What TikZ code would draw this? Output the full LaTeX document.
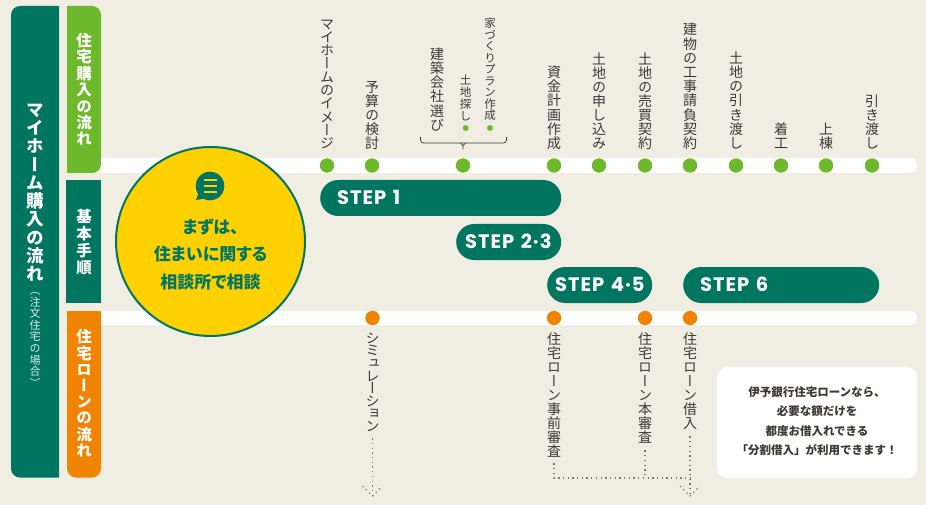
\documentclass[tikz,border=0pt]{standalone}
\usepackage{fontspec}
\newfontfamily\jpfont[RawFeature=+palt]{Noto Sans CJK JP}
\newfontfamily\jpnote{Noto Sans CJK JP}
\newfontfamily\jpvert[RawFeature=+vert]{Noto Sans CJK JP}
\newfontfamily\stepfont[LetterSpace=5]{Poppins}
\definecolor{pagebg}{HTML}{F0EEE3}
\definecolor{deepgreen}{HTML}{007560}
\definecolor{leafgreen}{HTML}{6EB92B}
\definecolor{loanorange}{HTML}{F08300}
\definecolor{talkyellow}{HTML}{FFD100}
\definecolor{labelgray}{HTML}{3C3A36}
\definecolor{dotgray}{HTML}{7D7A72}
\makeatletter
\newcommand{\vtext}[2]{\vbox{\offinterlineskip\@tfor\vch:=#2\do{\hbox to 1.2em{\vrule height .88\dimexpr#1\relax depth .12\dimexpr#1\relax width 0pt\hss\smash{\vch}\hss}}}}
\makeatother
\tikzset{
  sidelabel/.style={inner sep=0pt,text=white,font=\fontsize{15.5}{16}\jpvert\bfseries},
  toplabel/.style={inner sep=0pt,anchor=south,text=labelgray,font=\fontsize{14}{14}\jpvert},
  loanlabel/.style={inner sep=0pt,anchor=north,text=labelgray,font=\fontsize{14}{14}\jpvert},
  smalllabel/.style={inner sep=0pt,anchor=south,text=labelgray,font=\fontsize{11.5}{11}\jpvert},
  stepbar/.style={fill=deepgreen,rounded corners=18pt,minimum height=36pt,inner ysep=0pt,align=left,text=white,text height=13.5pt,text depth=0pt,font=\fontsize{19.5}{20}\stepfont\bfseries},
  talkline/.style={inner sep=0pt,text=deepgreen,font=\fontsize{17}{17}\jpfont\bfseries},
  noteline/.style={inner sep=0pt,text=labelgray,font=\fontsize{11.5}{12}\jpnote\bfseries},
  dotline/.style={dotgray,line width=1.3pt,dash pattern=on 1.3pt off 3.4pt},
}

\begin{document}
\begin{tikzpicture}[x=1pt,y=-1pt]
  \fill[pagebg] (0,0) rectangle (926,505);
  \useasboundingbox (0,0) rectangle (926,505);
  % side bars
  \fill[deepgreen] (59,6) [rounded corners=9pt] -- (11,6) -- (11,477.5) [sharp corners] -- (59,477.5) -- cycle;
  \fill[leafgreen] (67,6) [rounded corners=9pt] -- (101,6) -- (101,173) [sharp corners] -- (67,173) -- cycle;
  \fill[deepgreen] (66,180) rectangle (101,303);
  \fill[loanorange] (101,311) [rounded corners=9pt] -- (101,477.5) -- (67,477.5) [sharp corners] -- (67,311) -- cycle;
  \node[sidelabel,font=\fontsize{17.5}{18}\jpvert\bfseries] (mainTitle) at (35,191.5) {\vtext{18.3pt}{マイホーム購入の流れ}};
  \node[sidelabel,font=\fontsize{11}{11}\jpvert,text=white!85!deepgreen] (mainNote) at (35,336.5) {\vtext{11.6pt}{（注文住宅の場合）}};
  \node[sidelabel] (buyTitle) at (84,89.5) {\vtext{16.4pt}{住宅購入の流れ}};
  \node[sidelabel] (stepTitle) at (84,241.5) {\vtext{17pt}{基本手順}};
  \node[sidelabel] (loanTitle) at (84,393.5) {\vtext{16.2pt}{住宅ローンの流れ}};
  % white tracks
  \fill[white] (101,158) [rounded corners=7pt] -- (917,158) -- (917,173) [sharp corners] -- (101,173) -- cycle;
  \fill[white] (101,311) [rounded corners=7pt] -- (917,311) -- (917,325) [sharp corners] -- (101,325) -- cycle;
  % yellow circle
  \node[circle,fill=talkyellow,draw=deepgreen,line width=2pt,minimum size=189pt,inner sep=0pt] (talk) at (210.5,241.5) {};
  \fill[deepgreen] (210,186) circle (14.3);
  \fill[deepgreen] (199,192) -- (196,200) -- (208,198) -- cycle;
  \foreach \y in {180,186,192}
    \draw[talkyellow,line width=1.7pt] (204,\y)--(217,\y);
  \node[talkline] (talkA) at (210.5,227) {まずは、};
  \node[talkline] (talkB) at (210.5,254) {住まいに関する};
  \node[talkline] (talkC) at (210.5,282) {相談所で相談};
  % dots on the tracks
  \foreach \x in {327,372,463,554,599,645,690,736,781,826,872}
    \fill[leafgreen] (\x,165.5) circle (7.2);
  \foreach \x in {372.5,554,645,690}
    \fill[loanorange] (\x,318) circle (7.2);
  % upper labels
  \node[toplabel] (imageLabel) at (327,150.5) {\vtext{13.3pt}{マイホームのイメージ}};
  \node[toplabel] (budgetLabel) at (372,150.5) {\vtext{14.1pt}{予算の検討}};
  \node[toplabel] (builderLabel) at (437,132) {\vtext{14.1pt}{建築会社選び}};
  \node[smalllabel] (landLabel) at (465.5,122) {\vtext{11.8pt}{土地探し}};
  \node[smalllabel] (planLabel) at (490,121.5) {\vtext{11.5pt}{家づくりプラン作成}};
  \fill[leafgreen] (465.7,128) circle (3);
  \fill[leafgreen] (490,128) circle (3);
  \node[toplabel] (fundLabel) at (554,150.5) {\vtext{14.2pt}{資金計画作成}};
  \node[toplabel] (applyLabel) at (599,150.5) {\vtext{14pt}{土地の申し込み}};
  \node[toplabel] (saleLabel) at (645,150.5) {\vtext{14.1pt}{土地の売買契約}};
  \node[toplabel] (buildLabel) at (690,150.5) {\vtext{14.2pt}{建物の工事請負契約}};
  \node[toplabel] (handLabel) at (736,150.5) {\vtext{14.2pt}{土地の引き渡し}};
  \node[toplabel] (startLabel) at (781,150.5) {\vtext{14pt}{着工}};
  \node[toplabel] (frameLabel) at (826,150.5) {\vtext{14pt}{上棟}};
  \node[toplabel] (finalLabel) at (872,150.5) {\vtext{14pt}{引き渡し}};
  % brace
  \draw[labelgray,line width=.7pt,rounded corners=3pt] (420.5,137)--(420.5,143)--(506.5,143)--(506.5,137);
  \draw[labelgray,line width=.7pt] (463,149.5)--(463,145.5) (460.5,143.2)--(463,145.5)--(465.5,143.2);
  % steps
  \node[stepbar,anchor=west,inner xsep=17pt,text width=207pt] (stepOne) at (320,198) {\mbox{STEP 1}};
  \node[stepbar,anchor=west,inner xsep=9pt,text width=87pt] (stepTwo) at (456,242) {\mbox{STEP 2·3}};
  \node[stepbar,anchor=west,inner xsep=8pt,text width=89pt] (stepFour) at (547,285) {\mbox{STEP 4·5}};
  \node[stepbar,anchor=west,inner xsep=17pt,text width=162pt] (stepSix) at (683,285) {\mbox{STEP 6}};
  % lower labels
  \node[loanlabel] (simLabel) at (372.5,332) {\vtext{12.6pt}{シミュレーション}};
  \node[loanlabel] (preLabel) at (554,332) {\vtext{14pt}{住宅ローン事前審査}};
  \node[loanlabel] (mainLabel) at (645,332) {\vtext{14pt}{住宅ローン本審査}};
  \node[loanlabel] (drawLabel) at (690,332) {\vtext{14pt}{住宅ローン借入}};
  % dotted arrows
  \coordinate (simTip) at (372.5,496);
  \coordinate (drawTip) at (690,496);
  \coordinate (joinPre) at (554,478);
  \coordinate (joinDraw) at (690,478);
  \coordinate (joinMain) at (645,478);
  \draw[dotline] ([yshift=-5pt]simLabel.south) -- (simTip);
  \draw[dotline] ([shift={(-10,-10)}]simTip) -- (simTip) -- ([shift={(10,-10)}]simTip);
  \draw[dotline] ([yshift=-5pt]preLabel.south) -- (joinPre) -- (joinDraw);
  \draw[dotline] ([yshift=-6pt]mainLabel.south) -- (joinMain);
  \draw[dotline] ([yshift=-6pt]drawLabel.south) -- (drawTip);
  \draw[dotline] ([shift={(-10,-10)}]drawTip) -- (drawTip) -- ([shift={(10,-10)}]drawTip);
  % note box
  \node[fill=white,rounded corners=10pt,minimum width=200pt,minimum height=111pt,inner sep=0pt,anchor=north west] (noteBox) at (717,367) {};
  \node[noteline] (noteA) at (817,392) {伊予銀行住宅ローンなら、};
  \node[noteline] (noteB) at (817,411.5) {必要な額だけを};
  \node[noteline] (noteC) at (817,431) {都度お借入れできる};
  \node[noteline] (noteD) at (817,450) {「分割借入」が利用できます！};
\end{tikzpicture}
\end{document}
